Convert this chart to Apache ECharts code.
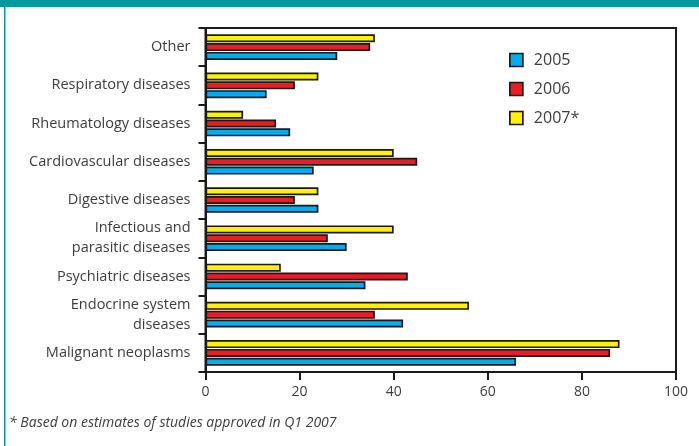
<!DOCTYPE html>
<html>
<head>
<meta charset="utf-8">
<script src="https://cdn.jsdelivr.net/npm/echarts@6/dist/echarts.min.js"></script>
<style>
  html, body { margin: 0; padding: 0; background: #ffffff; }
  #chart { width: 699px; height: 446px; }
</style>
</head>
<body>
<div id="chart"></div>
<script>
// Therapeutic areas, listed from top to bottom
const categories = [
  'Other',
  'Respiratory diseases',
  'Rheumatology diseases',
  'Cardiovascular diseases',
  'Digestive diseases',
  'Infectious and\nparasitic diseases',
  'Psychiatric diseases',
  'Endocrine system\ndiseases',
  'Malignant neoplasms'
];

const seriesNames = ['2005', '2006', '2007*'];

const values2005 = [28, 13, 18, 23, 24, 30, 34, 42, 66];
const values2006 = [35, 19, 15, 45, 19, 26, 43, 36, 86];
const values2007 = [36, 24, 8, 40, 24, 40, 16, 56, 88];

const xTicks = [0, 20, 40, 60, 80, 100];

const footnote = '* Based on estimates of studies approved in Q1 2007';

const FONT = '"Open Sans", Lato, sans-serif';
const INK = '#1a1a1a';
const TEXT = '#3c3c3c';
const TEAL = '#009a9c';

const colors = { '2005': '#00aeef', '2006': '#ed1c24', '2007*': '#fff200' };

function barSeries(name, data) {
  return {
    name: name,
    type: 'bar',
    data: data,
    barWidth: 8,
    barGap: '10%',
    itemStyle: { color: colors[name], borderColor: INK, borderWidth: 1.7 }
  };
}

const chart = echarts.init(document.getElementById('chart'), null, { renderer: 'canvas' });

chart.setOption({
  animation: false,
  backgroundColor: '#ffffff',
  textStyle: { fontFamily: FONT },
  grid: {
    left: 205.5, right: 23, top: 28, bottom: 74,
    show: true, borderColor: INK, borderWidth: 2, backgroundColor: 'transparent'
  },
  legend: {
    data: seriesNames,
    orient: 'vertical',
    left: 504, top: 47,
    itemWidth: 13, itemHeight: 13, itemGap: 13,
    icon: 'rect',
    itemStyle: { borderColor: INK, borderWidth: 1.7 },
    textStyle: { fontFamily: FONT, fontSize: 16, color: TEXT, padding: [0, 0, 0, 6] }
  },
  xAxis: {
    type: 'value',
    min: 0, max: 100, interval: 20,
    axisLine: { show: true, lineStyle: { color: INK, width: 2 } },
    axisTick: { show: true, length: 8, lineStyle: { color: INK, width: 2 } },
    splitLine: { show: false },
    axisLabel: {
      fontFamily: FONT, fontSize: 14, color: TEXT, margin: 13,
      formatter: function (v) { return xTicks.indexOf(v) >= 0 ? String(v) : ''; }
    }
  },
  yAxis: {
    type: 'category',
    inverse: true,
    data: categories,
    axisLine: { show: true, lineStyle: { color: INK, width: 2 } },
    axisTick: { show: true, length: 7, inside: false, lineStyle: { color: INK, width: 2 } },
    axisLabel: {
      fontFamily: FONT, fontSize: 14.5, color: TEXT, margin: 15, lineHeight: 20, align: 'right'
    }
  },
  // Series listed top-to-bottom within each group
  series: [
    barSeries('2007*', values2007),
    barSeries('2006', values2006),
    barSeries('2005', values2005)
  ],
  graphic: [
    { type: 'rect', shape: { x: 0, y: 0, width: 699, height: 7 }, style: { fill: TEAL }, silent: true },
    { type: 'rect', shape: { x: 4, y: 7, width: 1.5, height: 439 }, style: { fill: TEAL }, silent: true },
    {
      type: 'text', left: 9, top: 416,
      style: { text: footnote, fill: TEXT, font: 'italic 14px ' + FONT }
    }
  ]
});
</script>
</body>
</html>
